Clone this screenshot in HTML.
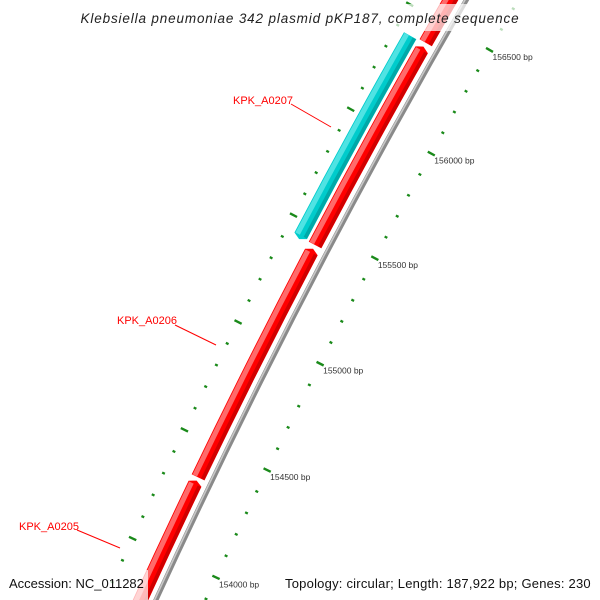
<!DOCTYPE html>
<html><head><meta charset="utf-8"><style>
html,body{margin:0;padding:0;background:#fff;width:600px;height:600px;overflow:hidden;}
svg{display:block;font-family:"Liberation Sans","DejaVu Sans",sans-serif;}
</style></head><body>
<svg id="chart" width="600" height="600" viewBox="0 0 600 600" xmlns="http://www.w3.org/2000/svg">
<rect x="0" y="0" width="600" height="600" fill="#fff"/>
<g id="ticks"></g>
<g id="backbone"></g>
<g id="genes"></g>
<g id="labels">
<text x="233" y="104" font-size="11" fill="#f00">KPK_A0207</text>
<line x1="291" y1="104" x2="331" y2="127" stroke="#f00" stroke-width="1"/>
<text x="117" y="324" font-size="11" fill="#f00">KPK_A0206</text>
<line x1="175" y1="325" x2="216" y2="345" stroke="#f00" stroke-width="1"/>
<text x="19" y="530" font-size="11" fill="#f00">KPK_A0205</text>
<line x1="77" y1="530" x2="120" y2="548" stroke="#f00" stroke-width="1"/>
</g>
<rect x="74" y="4" width="452" height="27" fill="#fff" fill-opacity="0.7"/>
<text x="300" y="23" font-size="13.5" font-style="italic" text-anchor="middle" fill="#222" letter-spacing="0.85">Klebsiella pneumoniae 342 plasmid pKP187, complete sequence</text>
<rect x="4" y="570" width="144" height="30" fill="#fff" fill-opacity="0.72"/>
<text x="9" y="588" font-size="13" fill="#111">Accession: NC_011282</text>
<rect x="280" y="570" width="316" height="30" fill="#fff" fill-opacity="0.72"/>
<text x="285" y="588" font-size="13" fill="#111" letter-spacing="0.22">Topology: circular; Length: 187,922 bp; Genes: 230</text>
</svg>
<script>
const geneNames=['KPK_A0205','KPK_A0206','unnamed','KPK_A0207','next-gene'];
const geneStarts=[153400,154345,155430,155421,156392];
const geneEnds=[154334,155416,156377,156389,157600];
const geneStrands=[1,1,1,-1,1];
const tickStart=153400, tickEnd=157200, tickStep=100, majorStep=500;

const NS='http://www.w3.org/2000/svg';
const L=187922, R=7155, CX=6659, CY=3584;
function pt(bp,r){const a=2*Math.PI*bp/L;return [CX+r*Math.sin(a),CY-r*Math.cos(a)];}
function f(p){return p[0].toFixed(2)+' '+p[1].toFixed(2);}
function arcPath(s,e,r){return 'M'+f(pt(s,r))+' A'+r+' '+r+' 0 0 1 '+f(pt(e,r));}
function mk(tag,attrs,parent){const el=document.createElementNS(NS,tag);for(const k in attrs)el.setAttribute(k,attrs[k]);parent.appendChild(el);return el;}

const bb=document.getElementById('backbone');
let b1=mk('path',{d:arcPath(153000,157800,R),stroke:'#8a8a8a','stroke-width':5,fill:'none'},bb);


let b2=mk('path',{d:arcPath(153000,157800,R+1.2),stroke:'#c8c8c8','stroke-width':1.6,fill:'none'},bb);



const tg=document.getElementById('ticks');
for(let bp=tickStart;bp<=tickEnd;bp+=tickStep){
  const major=bp%majorStep===0;
  const h=major?4:1.5;
  [R-45,R+47].forEach((r,i)=>{
    const l=mk('line',{},tg);
    const a=pt(bp,r-h),b=pt(bp,r+h);
    l.setAttribute('x1',a[0]);l.setAttribute('y1',a[1]);l.setAttribute('x2',b[0]);l.setAttribute('y2',b[1]);
    l.setAttribute('stroke','#1a8a1a');l.setAttribute('stroke-width',major?2.4:2.3);
    
    
  });
  if(major){
    const p=pt(bp,R-45);
    const t=mk('text',{x:p[0]+3,y:p[1]+10,'font-size':8.5,fill:'#333'},tg);
    t.textContent=bp+' bp';
    
    
  }
}

const gg=document.getElementById('genes');
const ab=16, W=15;
for(let i=0;i<geneNames.length;i++){
  const s=geneStarts[i], e=geneEnds[i], fwd=geneStrands[i]>0;
  const rc=fwd?R+14:R+31, r1=rc+W/2, r0=rc-W/2;
  let d;
  if(fwd){
    d='M'+f(pt(s,r1))+' A'+r1+' '+r1+' 0 0 1 '+f(pt(e-ab,r1))+' L'+f(pt(e,rc))+' L'+f(pt(e-ab,r0))+' A'+r0+' '+r0+' 0 0 0 '+f(pt(s,r0))+' Z';
  }else{
    d='M'+f(pt(s+ab,r1))+' A'+r1+' '+r1+' 0 0 1 '+f(pt(e,r1))+' L'+f(pt(e,r0))+' A'+r0+' '+r0+' 0 0 0 '+f(pt(s+ab,r0))+' L'+f(pt(s,rc))+' Z';
  }
  const g=mk('g',{},gg);
  
  
  const body=mk('path',{d:d,fill:fwd?'#ff0000':'#00cccc',stroke:'#fff','stroke-width':0.8},g);
  
  
  const hs=fwd?s:s+ab, he=fwd?e-ab:e;
  const hl=mk('path',{d:arcPath(hs+3,he-3,rc+W/4),stroke:fwd?'#ff6a6a':'#4fe3e3','stroke-width':W/3,fill:'none'},g);
  
  
  const sh=mk('path',{d:arcPath(hs+3,he-3,rc-W/3),stroke:fwd?'#d00000':'#00a8a8','stroke-width':W/4,fill:'none'},g);
  
  
}
</script>
</body></html>
